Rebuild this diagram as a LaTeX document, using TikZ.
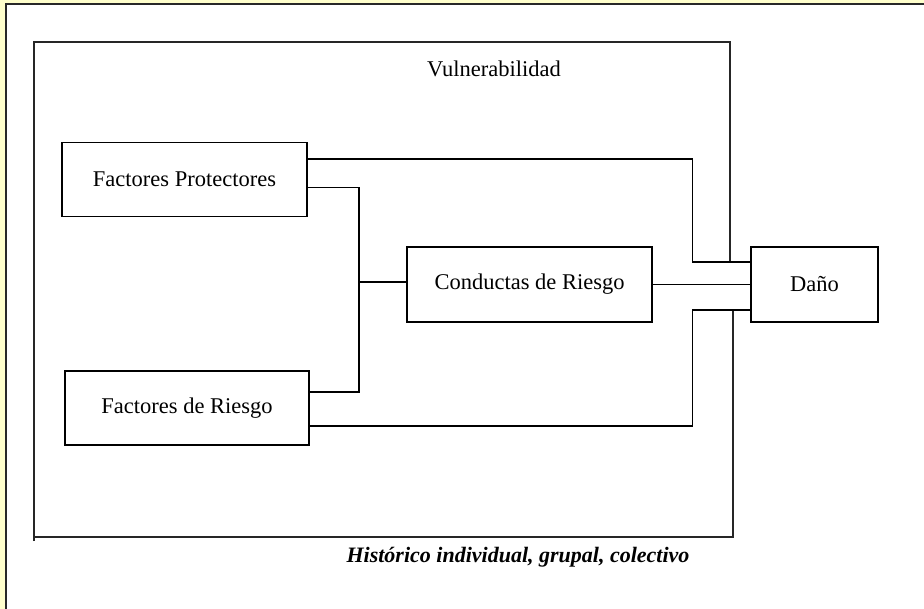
\documentclass[tikz,border=0pt]{standalone}
\usepackage{fontspec}
\setmainfont{Liberation Serif}
\definecolor{paleyellow}{RGB}{255,255,204}
\definecolor{frameline}{RGB}{40,40,40}
\begin{document}
\begin{tikzpicture}[x=1pt,y=-1pt,
  box/.style={draw=black,line width=1.5pt,fill=white,inner sep=0pt,font=\fontsize{22.5}{26}\selectfont},
  conn/.style={draw=black,line width=1.5pt},
  frame/.style={draw=black!85,line width=1.5pt}]
\useasboundingbox (0,0) rectangle (924,609);
% page background
\fill[paleyellow] (0,0) rectangle (924,609);
\fill[white] (6,4.5) rectangle (924,609);
\draw[frameline,line width=2pt] (6,609) -- (6,4.5) -- (924,4.5);
% Vulnerabilidad frame
\draw[frame] (34,541) -- (34,42) -- (730,42) -- (730,262);
\draw[frame] (733,310) -- (733,537) -- (34,537);
\node[font=\fontsize{22.5}{26}\selectfont] (vul) at (494,69) {Vulnerabilidad};
% boxes
\node[box,minimum width=245pt,minimum height=74pt] (prot) at (184.5,179.5) {Factores Protectores};
\node[box,minimum width=244pt,minimum height=74pt] (riesgo) at (187,408) {Factores de Riesgo};
\node[box,minimum width=245pt,minimum height=75pt] (cond) at (529.5,284.5) {Conductas de Riesgo};
\node[box,minimum width=127pt,minimum height=75pt] (dano) at (814.5,284.5) {Daño};
% connectors
\coordinate (b1) at (359,282);
\draw[conn] ([yshift=20.5pt]prot.east) -| ([xshift=-58pt,yshift=22.5pt]dano.west) -- ([yshift=22.5pt]dano.west);
\draw[conn] ([yshift=-8pt]prot.east) -| (b1) |- ([yshift=16pt]riesgo.east);
\draw[conn] (b1) -- (b1 -| cond.west);
\draw[conn] (cond.east) -- (dano.west);
\draw[conn] ([yshift=-18pt]riesgo.east) -| ([xshift=-58pt,yshift=-25.5pt]dano.west) -- ([yshift=-25.5pt]dano.west);
% caption
\node[font=\fontsize{22}{26}\selectfont\bfseries\itshape] (hist) at (518,557) {Histórico individual, grupal, colectivo};
\end{tikzpicture}
\end{document}
